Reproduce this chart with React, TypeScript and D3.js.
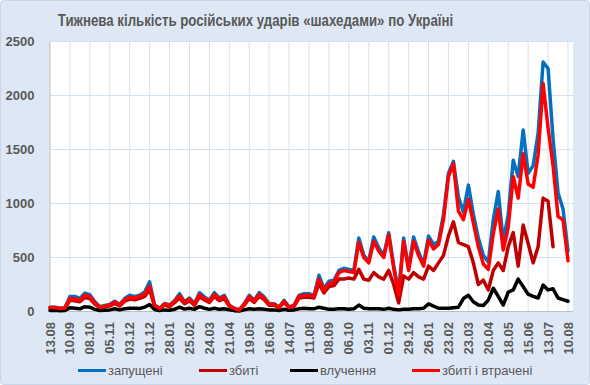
import React from 'react';
import * as d3 from 'd3';

// підписи осі X (кожні 4 тижні)
const tickLabels = [
  '13.08', '10.09', '08.10', '05.11', '03.12', '31.12', '28.01', '25.02', '24.03',
  '21.04', '19.05', '16.06', '14.07', '11.08', '08.09', '06.10', '03.11', '01.12',
  '29.12', '26.01', '23.02', '23.03', '20.04', '18.05', '15.06', '13.07', '10.08',
];

const yTicks = [0, 500, 1000, 1500, 2000, 2500];

// запущені
const launched = [
  40, 40, 30, 35, 140, 140, 120, 170, 155, 90, 45, 55, 65, 95, 65, 120, 150, 140, 150, 180, 275, 60, 30, 75, 60, 100, 165, 90, 125,
  72, 174, 135, 104, 174, 125, 150, 58, 30, 15, 72, 150, 104, 174, 135, 72, 72, 42, 104, 42, 58, 150, 165, 165, 150, 335, 211,
  280, 290, 380, 400, 390, 380, 680, 520, 470, 690, 590, 520, 730, 430, 180, 680, 400, 690, 550, 440, 700, 620, 650, 900, 1280, 1390,
  1060, 920, 1170, 900, 680, 520, 460, 850, 1110, 650, 900, 1400, 1250, 1680, 1280, 1350, 1650, 2310, 2250, 1600, 1100, 950, 560,
];

// збиті
const shotDown = [
  32, 32, 24, 28, 105, 100, 90, 130, 120, 68, 34, 42, 52, 75, 52, 95, 115, 108, 122, 140, 205, 46, 22, 60, 46, 82, 125, 72, 100,
  58, 135, 108, 84, 140, 100, 120, 48, 24, 12, 58, 122, 85, 140, 110, 58, 58, 34, 84, 34, 48, 125, 132, 132, 125, 260, 172,
  230, 240, 300, 300, 310, 300, 390, 300, 290, 360, 320, 300, 380, 250, 80, 330, 300, 360, 320, 300, 420, 380, 450, 520, 700, 830,
  640, 620, 600, 450, 250, 290, 200, 380, 450, 380, 600, 730, 420, 800, 630, 450, 600, 1050, 1020, 600,
];

// влучення
const hits = [
  10, 12, 8, 10, 35, 30, 25, 45, 40, 20, 10, 12, 15, 25, 15, 25, 30, 30, 28, 40, 65, 18, 8, 15, 12, 20, 40, 22, 30,
  20, 45, 30, 20, 30, 20, 25, 15, 8, 5, 15, 25, 20, 25, 20, 15, 15, 10, 20, 12, 15, 25, 30, 25, 25, 40, 30,
  20, 20, 25, 25, 20, 25, 60, 30, 25, 25, 25, 20, 30, 20, 15, 20, 20, 25, 25, 30, 70, 50, 30, 30, 30, 35,
  40, 120, 150, 90, 60, 55, 105, 215, 140, 60, 180, 200, 300, 230, 160, 140, 125, 245, 200, 210, 125, 110, 95,
];

// збиті і втрачені
const shotDownLost = [
  38, 38, 28, 33, 120, 118, 105, 150, 138, 80, 40, 50, 60, 88, 60, 110, 132, 125, 140, 162, 235, 55, 28, 70, 55, 95, 145, 85, 115,
  66, 155, 122, 95, 158, 115, 138, 54, 28, 14, 66, 138, 96, 158, 124, 66, 66, 38, 95, 38, 54, 140, 150, 150, 140, 300, 195,
  260, 270, 360, 380, 370, 360, 640, 500, 450, 650, 560, 500, 710, 400, 150, 650, 380, 650, 520, 420, 660, 580, 620, 850, 1250, 1370,
  930, 850, 1040, 820, 600, 440, 390, 720, 950, 570, 780, 1250, 1050, 1460, 1180, 1150, 1450, 2110, 1700, 1350, 880, 850, 470,
];

const series = [
  { name: 'запущені', values: launched, color: '#0070C0' },
  { name: 'збиті', values: shotDown, color: '#C00000' },
  { name: 'влучення', values: hits, color: '#000000' },
  { name: 'збиті і втрачені', values: shotDownLost, color: '#FF0000' },
];

const legendX = [78, 199, 290, 412];

export default function App() {
  const x = d3.scaleLinear().domain([0, launched.length - 1]).range([50, 568]);
  const y = d3.scaleLinear().domain([0, 2500]).range([311.5, 41.5]);

  const line = d3
    .line<number>()
    .x((d, i) => x(i))
    .y(d => y(d));

  const textGray = '#595959';
  const grid = '#D6E1EF';

  return (
    <svg
      width={590}
      height={385}
      style={{ position: 'absolute', left: 0, top: 0 }}
      fontFamily="'Liberation Sans', Arial, sans-serif"
    >
      <rect x={0.5} y={0.5} width={589} height={384} rx={3} fill="#DEE8F4" stroke="#C9D6E6" />
      <rect x={50} y={41.5} width={523} height={270} fill="#FFFFFF" />

      {/* сітка */}
      {yTicks.slice(1).map(t => (
        <line key={'h' + t} x1={50} x2={573} y1={y(t)} y2={y(t)} stroke={grid} strokeWidth={1} />
      ))}
      {tickLabels.map((lab, k) => k > 0 && (
        <line key={'v' + k} x1={x(k * 4)} x2={x(k * 4)} y1={41.5} y2={311.5} stroke={grid} strokeWidth={1} />
      ))}

      {/* осі */}
      <line x1={50} x2={50} y1={41.5} y2={311.5} stroke="#BFBFBF" />
      <line x1={50} x2={573} y1={311.5} y2={311.5} stroke="#BFBFBF" />

      {yTicks.map(t => (
        <text key={'yt' + t} x={34.5} y={y(t) + 4.5} textAnchor="end" fontSize={13} fontWeight="bold" fill={textGray}>
          {t}
        </text>
      ))}

      {tickLabels.map((lab, k) => (
        <text
          key={'xt' + k}
          transform={`translate(${x(k * 4) + 4.5},322) rotate(-90)`}
          textAnchor="end"
          fontSize={13}
          fontWeight="bold"
          fill={textGray}
        >
          {lab}
        </text>
      ))}

      {/* лінії */}
      {series.map(s => (
        <path
          key={s.name}
          d={line(s.values) || ''}
          fill="none"
          stroke={s.color}
          strokeWidth={3.5}
          strokeLinejoin="round"
          strokeLinecap="round"
        />
      ))}

      {/* заголовок (вузький шрифт імітуємо стисненням) */}
      <text
        transform="translate(255.5,25.5) scale(0.78,1)"
        textAnchor="middle"
        fontSize={17}
        fontWeight="bold"
        fill={textGray}
      >
        Тижнева кількість російських ударів «шахедами» по Україні
      </text>

      {/* легенда */}
      {series.map((s, i) => (
        <g key={'lg' + s.name} transform={`translate(${legendX[i]},370.5)`}>
          <line x1={0} x2={28} y1={0} y2={0} stroke={s.color} strokeWidth={3} />
          <text x={30} y={4.5} fontSize={13} fill={textGray}>
            {s.name}
          </text>
        </g>
      ))}
    </svg>
  );
}
